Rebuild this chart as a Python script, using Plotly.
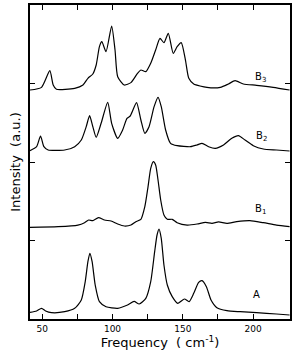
import plotly.graph_objects as go

# Frequencies (cm^-1) and stacked intensities (a.u.)
b3_x = [41.3, 49.5, 55.4, 57.8, 60.1, 73.1, 79.0, 82.5, 86.0, 88.4, 90.7, 92.4, 95.4, 99.4,
        101.8, 103.7, 108.4, 113.1, 117.8, 120.2, 123.7, 127.2, 130.7, 133.8, 136.6, 139.7,
        143.2, 146.0, 148.9, 151.9, 154.3, 157.8, 167.2, 176.7, 182.5, 187.2, 193.1, 202.5,
        214.3, 226.0]
b3_y = [2.917, 2.951, 3.163, 2.981, 2.926, 2.938, 2.981, 3.066, 3.121, 3.236, 3.469, 3.533,
        3.406, 3.732, 3.427, 3.087, 2.981, 3.011, 3.130, 3.172, 3.151, 3.257, 3.427, 3.575,
        3.520, 3.639, 3.384, 3.469, 3.520, 3.299, 3.066, 2.994, 2.951, 2.951, 2.994, 3.036,
        2.994, 2.977, 2.951, 2.917]

b2_x = [41.3, 46.0, 48.8, 51.2, 54.2, 66.0, 73.1, 77.8, 81.3, 83.7, 86.0, 88.4, 91.9, 96.6,
        99.4, 103.7, 107.2, 110.3, 112.6, 117.1, 120.2, 123.0, 126.0, 129.6, 132.4, 134.7,
        137.8, 141.3, 146.0, 155.5, 160.2, 163.7, 168.4, 173.1, 179.0, 184.9, 189.6, 194.3,
        200.2, 207.3, 216.7, 226.0]
b2_y = [2.144, 2.195, 2.331, 2.195, 2.153, 2.153, 2.195, 2.280, 2.450, 2.590, 2.450, 2.314,
        2.493, 2.760, 2.493, 2.302, 2.408, 2.556, 2.586, 2.756, 2.535, 2.365, 2.450, 2.705,
        2.824, 2.705, 2.408, 2.238, 2.208, 2.195, 2.217, 2.238, 2.195, 2.174, 2.217, 2.302,
        2.335, 2.280, 2.208, 2.166, 2.153, 2.140]

b1_x = [41.3, 61.3, 75.4, 80.1, 83.0, 86.0, 90.0, 94.3, 99.0, 103.7, 108.4, 113.1, 116.6,
        120.2, 123.0, 125.3, 127.2, 129.1, 130.7, 132.4, 134.3, 136.6, 139.0, 142.5, 146.0,
        153.1, 160.2, 166.1, 170.8, 175.5, 181.4, 188.4, 197.8, 207.3, 216.7, 226.0]
b1_y = [1.168, 1.176, 1.197, 1.227, 1.261, 1.253, 1.291, 1.261, 1.248, 1.210, 1.185, 1.197,
        1.240, 1.270, 1.431, 1.686, 1.919, 2.004, 1.962, 1.771, 1.516, 1.325, 1.270, 1.270,
        1.227, 1.197, 1.210, 1.231, 1.219, 1.236, 1.219, 1.240, 1.253, 1.227, 1.197, 1.176]

a_x = [41.3, 46.0, 49.5, 52.4, 56.6, 66.0, 73.1, 77.8, 80.6, 82.5, 83.9, 85.5, 87.7, 90.7,
       95.4, 103.7, 110.7, 115.4, 119.0, 123.7, 127.2, 130.0, 131.7, 133.1, 134.7, 136.6,
       139.0, 142.5, 146.5, 151.2, 154.5, 157.8, 161.3, 163.7, 166.8, 170.1, 174.3, 181.4,
       190.8, 202.5, 216.7, 226.0]
a_y = [0.085, 0.102, 0.136, 0.102, 0.081, 0.093, 0.136, 0.242, 0.476, 0.730, 0.837, 0.730,
       0.433, 0.221, 0.157, 0.136, 0.178, 0.225, 0.191, 0.263, 0.476, 0.858, 1.070, 1.146,
       1.028, 0.688, 0.433, 0.285, 0.200, 0.255, 0.221, 0.327, 0.467, 0.488, 0.412, 0.242,
       0.144, 0.106, 0.093, 0.081, 0.064, 0.051]

labels = ["B<sub>3</sub>", "B<sub>2</sub>", "B<sub>1</sub>", "A"]
label_x = [205.5, 206.0, 205.5, 202.5]
label_y = [3.08, 2.33, 1.39, 0.31]

x_major = [50, 100, 150, 200]
x_minor = [75, 125, 175]
y_ticks = [1, 2, 3]

fig = go.Figure()
for xs, ys in [(b3_x, b3_y), (b2_x, b2_y), (b1_x, b1_y), (a_x, a_y)]:
    fig.add_trace(go.Scatter(x=xs, y=ys, mode="lines",
                             line=dict(color="black", width=1.2, shape="spline", smoothing=0.6),
                             showlegend=False, hoverinfo="skip"))

for t, lx, ly in zip(labels, label_x, label_y):
    fig.add_annotation(x=lx, y=ly, text=t, showarrow=False,
                       font=dict(family="DejaVu Sans", size=10, color="black"))

fig.update_layout(
    width=294, height=353,
    margin=dict(l=30, r=2, t=5, b=34),
    paper_bgcolor="white", plot_bgcolor="white",
    font=dict(family="DejaVu Sans", color="black"),
    xaxis=dict(range=[41.3, 226.3], tickmode="array", tickvals=x_major,
               ticks="inside", ticklen=5, tickwidth=1, tickcolor="black", mirror="allticks",
               minor=dict(tickmode="array", tickvals=x_minor, ticks="inside", ticklen=5,
                          tickwidth=1, tickcolor="black", showgrid=False),
               showline=True, linecolor="black", linewidth=1.5, showgrid=False, zeroline=False,
               tickfont=dict(size=9),
               title=dict(text="Frequency  ( cm<sup>-1</sup>)", font=dict(size=13), standoff=4)),
    yaxis=dict(range=[0, 4], tickmode="array", tickvals=y_ticks, showticklabels=False,
               ticks="inside", ticklen=5, tickwidth=1, tickcolor="black", mirror="allticks",
               showline=True, linecolor="black", linewidth=1.5, showgrid=False, zeroline=False,
               title=dict(text="Intensity  (a.u.)", font=dict(size=13), standoff=5)),
)

fig.write_html("out.html")
